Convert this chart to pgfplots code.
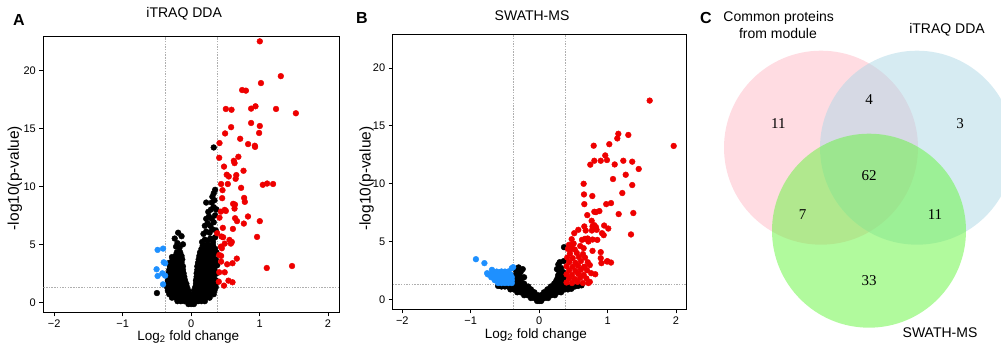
\documentclass[border=0pt]{standalone}
\usepackage{pgfplots}
\pgfplotsset{compat=1.18}
\usepackage{fontspec}
\setmainfont{Liberation Sans}
\newfontfamily\serifnum{Liberation Serif}
\definecolor{upred}{RGB}{238,0,0}
\definecolor{downblue}{RGB}{30,144,255}
\definecolor{refgray}{RGB}{175,175,175}
\definecolor{vpink}{RGB}{255,185,197}
\definecolor{vblue}{RGB}{173,216,230}
\definecolor{vgreen}{RGB}{100,245,60}
\pgfplotsset{
 volc/.style={
  scale only axis,
  axis line style={black, line width=0.8bp},
  xtick={-2,-1,0,1,2}, xticklabels={−2,−1,0,1,2},
  ytick={0,5,10,15,20}, yticklabels={0,5,10,15,20},
  xtick pos=bottom, ytick pos=left,
  tick align=outside, major tick length=4bp,
  tick style={black, line width=0.6bp},
  ticklabel style={font=\fontsize{11bp}{13bp}\selectfont},
  xlabel style={font=\fontsize{13.5bp}{16bp}\selectfont},
  ylabel style={font=\fontsize{15.5bp}{18bp}\selectfont},
  title style={font=\fontsize{14bp}{16bp}\selectfont},
  xlabel={Log\textsubscript{2} fold change},
  ylabel={-log10(p-value)},
  xmin=-2.16, xmax=2.16, ymin=-0.86, ymax=22.9,
 },
 dots/.style={only marks, mark=*, mark size=2.9bp, mark options={draw=none}},
 refline/.style={refgray, line width=0.6bp, dash pattern=on 1.5bp off 1.2bp, forget plot},
}
\begin{document}
\begin{tikzpicture}
\useasboundingbox (0,0) rectangle (1001bp,344bp);
% ---------------- Panel A ----------------
\begin{axis}[volc, at={(43.3bp,31.7bp)}, anchor=south west, width=295.7bp, height=275.6bp,
  title={iTRAQ DDA}, title style={at={(axis description cs:0.4765,1.06)}, anchor=center},
  xlabel style={at={(axis description cs:0.49,-0.088)}, anchor=center},
  ylabel style={at={(axis description cs:-0.096,0.487)}, anchor=center}]
\addplot[refline] coordinates {(-0.38,-0.86) (-0.38,22.9)};
\addplot[refline] coordinates {(0.38,-0.86) (0.38,22.9)};
\addplot[refline] coordinates {(-2.16,1.3) (2.16,1.3)};
\addplot[dots, black] coordinates {
(-0.04,-0.15)(0,-0.15)(0.04,-0.15)
(-0.2,0.1)(-0.15,0.1)(-0.1,0.1)(-0.05,0.1)(0,0.1)(0.05,0.1)(0.1,0.1)(0.15,0.1)(0.2,0.1)
(-0.28,0.4)(-0.23,0.4)(-0.18,0.4)(-0.13,0.4)(-0.08,0.4)(-0.03,0.4)(0.02,0.4)(0.07,0.4)(0.12,0.4)(0.17,0.4)(0.22,0.4)(0.27,0.4)
(-0.32,0.7)(-0.27,0.7)(-0.22,0.7)(-0.17,0.7)(-0.12,0.7)(-0.07,0.7)(-0.02,0.7)(0.03,0.7)(0.08,0.7)(0.13,0.7)(0.18,0.7)(0.23,0.7)(0.28,0.7)(0.33,0.7)
(-0.34,1.0)(-0.29,1.0)(-0.24,1.0)(-0.19,1.0)(-0.14,1.0)(-0.09,1.0)(-0.04,1.0)(0.04,1.0)(0.09,1.0)(0.14,1.0)(0.19,1.0)(0.24,1.0)(0.29,1.0)(0.34,1.0)
(-0.35,1.3)(-0.3,1.3)(-0.25,1.3)(-0.2,1.3)(-0.15,1.3)(-0.1,1.3)(-0.06,1.3)(0.06,1.3)(0.11,1.3)(0.16,1.3)(0.21,1.3)(0.26,1.3)(0.31,1.3)(0.36,1.3)
(-0.35,1.6)(-0.3,1.6)(-0.25,1.6)(-0.2,1.6)(-0.15,1.6)(-0.11,1.6)(-0.07,1.6)(0.07,1.6)(0.12,1.6)(0.17,1.6)(0.22,1.6)(0.27,1.6)(0.32,1.6)(0.36,1.6)
(-0.34,1.9)(-0.29,1.9)(-0.24,1.9)(-0.19,1.9)(-0.14,1.9)(-0.09,1.9)(0.07,1.9)(0.12,1.9)(0.17,1.9)(0.22,1.9)(0.27,1.9)(0.32,1.9)(0.36,1.9)
(-0.34,2.2)(-0.29,2.2)(-0.24,2.2)(-0.19,2.2)(-0.14,2.2)(-0.1,2.2)(0.08,2.2)(0.13,2.2)(0.18,2.2)(0.23,2.2)(0.28,2.2)(0.33,2.2)
(-0.33,2.5)(-0.28,2.5)(-0.23,2.5)(-0.18,2.5)(-0.13,2.5)(-0.11,2.5)(0.08,2.5)(0.13,2.5)(0.18,2.5)(0.23,2.5)(0.28,2.5)(0.33,2.5)(0.37,2.5)
(-0.32,2.8)(-0.27,2.8)(-0.22,2.8)(-0.17,2.8)(-0.12,2.8)(0.09,2.8)(0.14,2.8)(0.19,2.8)(0.24,2.8)(0.29,2.8)(0.34,2.8)
(-0.31,3.1)(-0.26,3.1)(-0.21,3.1)(-0.16,3.1)(-0.12,3.1)(0.09,3.1)(0.14,3.1)(0.19,3.1)(0.24,3.1)(0.29,3.1)(0.34,3.1)
(-0.29,3.4)(-0.24,3.4)(-0.19,3.4)(-0.14,3.4)(0.1,3.4)(0.15,3.4)(0.2,3.4)(0.25,3.4)(0.3,3.4)(0.35,3.4)
(-0.27,3.7)(-0.22,3.7)(-0.17,3.7)(-0.13,3.7)(0.11,3.7)(0.16,3.7)(0.21,3.7)(0.26,3.7)(0.31,3.7)(0.36,3.7)
(-0.23,4.0)(-0.18,4.0)(-0.14,4.0)(0.12,4.0)(0.17,4.0)(0.22,4.0)(0.27,4.0)(0.32,4.0)
(-0.21,4.3)(-0.16,4.3)(0.13,4.3)(0.18,4.3)(0.23,4.3)(0.28,4.3)(0.33,4.3)
(0.15,4.6)(0.2,4.6)(0.25,4.6)(0.3,4.6)(0.35,4.6)
(0.17,4.9)(0.22,4.9)(0.27,4.9)(0.32,4.9)
(-0.19,6.0)(-0.14,5.7)(-0.24,5.5)(-0.2,5.1)(-0.12,5.0)(-0.28,3.9)(-0.32,3.4)(-0.17,4.7)(-0.22,4.8)(-0.5,0.8)
(0.16,5.2)(0.2,5.4)(0.24,5.3)(0.28,5.5)(0.32,5.2)(0.35,5.6)(0.18,5.9)(0.22,6.1)(0.27,6.0)(0.31,6.3)(0.36,6.2)
(0.2,6.6)(0.24,6.8)(0.28,6.6)(0.33,6.9)(0.22,7.2)(0.26,7.4)(0.3,7.2)(0.35,7.5)(0.25,7.8)(0.29,8.0)(0.33,8.2)
(0.37,8.0)(0.22,8.6)(0.3,8.6)(0.34,8.8)(0.31,9.1)(0.33,9.4)(0.35,9.7)(0.33,13.35)(0.37,4.3)(0.38,3.2)
};
\addplot[dots, upred] coordinates {
(1.003,22.5)(1.31,19.5)(1.02,18.9)(0.745,18.3)(0.80,18.25)(0.507,16.67)(0.59,16.6)(0.876,16.7)(0.94,16.9)
(1.24,16.67)(1.53,16.3)(0.876,15.46)(0.584,15.1)(1.003,15.2)(0.496,14.56)(0.993,14.6)(0.716,14.1)(0.414,13.73)
(0.832,13.64)(0.93,13.5)(0.934,13.4)(0.41,12.46)(0.69,12.55)(0.624,12.2)(0.634,12.0)(0.48,11.7)(0.765,11.34)
(0.52,11.0)(0.55,10.85)(0.66,10.97)(0.65,10.65)(0.438,10.2)(0.536,10.2)(1.047,10.13)(1.11,10.24)(1.197,10.2)
(0.73,9.87)(0.458,9.67)(0.453,8.98)(0.774,9.0)(0.784,8.66)(0.613,8.49)(0.634,8.08)(0.64,8.43)(0.434,7.82)
(0.49,7.97)(0.507,7.88)(0.414,7.3)(0.642,7.25)(0.67,7.0)(0.83,7.4)(0.77,6.79)(1.003,7.0)(0.463,6.42)(0.61,6.33)
(0.38,5.96)(0.963,5.64)(0.444,5.67)(0.467,5.61)(0.56,5.38)(0.594,5.2)(0.58,5.06)(0.49,5.06)(0.434,4.8)
(0.448,4.66)(0.41,4.08)(0.438,4.0)(0.667,3.77)(0.438,3.51)(0.526,3.28)(0.604,3.37)(1.105,2.96)(1.474,3.13)
(0.41,2.59)(0.49,2.59)(0.404,1.78)(0.545,1.87)(0.604,1.73)(0.48,1.44)
};
\addplot[dots, downblue] coordinates {
(-0.49,4.52)(-0.41,4.63)(-0.40,3.45)(-0.38,3.37)(-0.505,2.85)(-0.49,2.27)(-0.42,2.5)(-0.38,2.3)(-0.41,1.55)
};
\end{axis}
% ---------------- Panel B ----------------
\begin{axis}[volc, at={(392.7bp,34.7bp)}, anchor=south west, width=294bp, height=275bp,
  xmin=-2.14, xmax=2.156, ymin=-0.87, ymax=22.9,
  title={SWATH-MS}, title style={at={(axis description cs:0.474,1.046)}, anchor=center},
  xlabel style={at={(axis description cs:0.487,-0.0935)}, anchor=center},
  ylabel style={at={(axis description cs:-0.0884,0.475)}, anchor=center}]
\addplot[refline] coordinates {(-0.38,-0.87) (-0.38,22.9)};
\addplot[refline] coordinates {(0.38,-0.87) (0.38,22.9)};
\addplot[refline] coordinates {(-2.14,1.3) (2.156,1.3)};
\addplot[dots, black] coordinates {
(-0.03,-0.15)(0,-0.15)(0.03,-0.15)
(-0.12,0.1)(-0.07,0.1)(-0.02,0.1)(0.03,0.1)(0.08,0.1)(0.13,0.1)
(-0.22,0.35)(-0.17,0.35)(-0.12,0.35)(-0.07,0.35)(-0.02,0.35)(0.03,0.35)(0.08,0.35)(0.13,0.35)(0.18,0.35)(0.23,0.35)
(-0.32,0.6)(-0.27,0.6)(-0.22,0.6)(-0.17,0.6)(-0.12,0.6)(-0.07,0.6)(0.07,0.6)(0.12,0.6)(0.17,0.6)(0.22,0.6)(0.27,0.6)(0.32,0.6)
(-0.42,0.85)(-0.37,0.85)(-0.32,0.85)(-0.27,0.85)(-0.22,0.85)(-0.17,0.85)(-0.12,0.85)(0.12,0.85)(0.17,0.85)(0.22,0.85)(0.27,0.85)(0.32,0.85)(0.37,0.85)(0.42,0.85)(0.47,0.9)
(-0.6,1.15)(-0.55,1.1)(-0.5,1.1)(-0.45,1.1)(-0.4,1.1)(-0.35,1.1)(-0.3,1.1)(-0.25,1.1)(-0.2,1.1)(-0.16,1.1)(0.17,1.1)(0.22,1.1)(0.27,1.1)(0.32,1.1)(0.37,1.1)(0.42,1.1)(0.47,1.1)(0.52,1.1)(0.57,1.15)(0.62,1.2)
(-0.37,1.35)(-0.32,1.35)(-0.27,1.35)(-0.22,1.35)(0.22,1.35)(0.27,1.35)(0.32,1.35)(0.37,1.35)
(-0.37,1.6)(-0.32,1.6)(-0.27,1.6)(0.25,1.6)(0.3,1.6)(0.35,1.6)
(-0.36,1.85)(-0.31,1.85)(-0.26,1.85)(0.27,1.85)(0.32,1.85)(0.36,1.85)
(-0.34,2.1)(-0.29,2.1)(0.28,2.1)(0.33,2.1)
(-0.33,2.35)(-0.27,2.35)(0.3,2.35)(0.35,2.35)
(-0.35,2.6)(-0.3,2.75)(-0.24,2.6)(-0.22,1.9)(0.28,3.0)(0.3,3.2)(0.32,2.7)(0.36,3.3)(0.363,4.5)(0.26,2.6)
};
\addplot[dots, downblue] coordinates {
(-0.4,1.4)(-0.45,1.4)(-0.5,1.4)(-0.55,1.4)(-0.6,1.4)
(-0.4,1.65)(-0.45,1.65)(-0.5,1.65)(-0.55,1.65)(-0.6,1.65)(-0.65,1.65)
(-0.4,1.9)(-0.45,1.9)(-0.5,1.9)(-0.55,1.9)(-0.6,1.9)(-0.65,1.9)(-0.7,1.9)
(-0.42,2.15)(-0.47,2.15)(-0.52,2.15)(-0.58,2.15)(-0.64,2.15)(-0.7,2.15)(-0.75,2.15)
(-0.45,2.4)(-0.55,2.4)(-0.67,2.4)
(-0.924,3.46)(-0.80,3.12)(-0.69,2.54)(-0.62,2.39)(-0.563,2.34)(-0.5,2.39)(-0.40,2.68)(-0.38,2.77)(-0.76,2.25)
};
\addplot[dots, upred] coordinates {
(1.615,17.17)(1.966,13.25)(1.157,14.3)(1.142,13.9)(1.303,14.2)(1.025,13.4)(0.797,13.27)(0.966,12.43)(0.991,12.03)
(0.806,11.97)(0.9,11.97)(0.747,11.63)(1.104,11.65)(1.23,11.97)(1.36,11.89)(1.455,11.26)(1.265,10.76)(1.079,10.39)
(0.65,9.98)(1.36,9.87)(1.215,9.18)(0.655,9.06)(0.777,8.92)(0.66,8.22)(0.98,8.22)(1.05,8.31)(1.376,7.45)
(0.806,7.56)(0.83,7.53)(0.88,7.62)(0.703,7.27)(1.162,7.36)(0.767,6.78)(0.806,6.4)(0.83,6.23)(0.95,6.37)
(0.918,5.71)(0.943,5.54)(1.342,5.6)(0.513,5.71)(0.572,6.0)(0.68,5.94)(0.709,5.25)(0.78,5.16)(0.85,5.13)
(0.475,5.19)(0.504,4.81)(0.436,4.7)(0.46,4.33)(0.65,4.41)(0.78,4.18)(0.9,4.07)(0.998,3.29)(0.91,3.12)
(0.82,2.16)(0.66,2.8)(0.72,1.4)(0.90,3.55)(0.99,3.26)(1.05,3.17)(0.626,5.13)(0.67,5.22)(0.72,4.99)
(0.77,5.94)(0.66,6.29)(0.78,6.29)(0.84,6.0)(1.01,6.11)
(0.40,1.45)(0.48,1.4)(0.56,1.5)(0.64,1.4)(0.74,1.5)
(0.44,1.8)(0.52,1.75)(0.6,1.85)(0.69,1.8)
(0.40,2.15)(0.48,2.1)(0.57,2.2)(0.65,2.1)(0.76,2.25)
(0.44,2.5)(0.53,2.45)(0.61,2.55)(0.70,2.5)
(0.40,2.85)(0.49,2.8)(0.57,2.9)(0.66,2.8)(0.74,2.95)
(0.44,3.2)(0.53,3.15)(0.61,3.3)(0.71,3.2)
(0.41,3.6)(0.49,3.55)(0.58,3.65)(0.67,3.6)
(0.45,3.95)(0.55,4.0)(0.64,3.9)
(0.42,4.35)(0.52,4.3)(0.6,4.6)
(0.48,4.7)
};
\end{axis}
% ---------------- Panel C (Venn) ----------------
\begin{axis}[at={(690bp,0bp)}, anchor=south west, scale only axis, width=311bp, height=344bp,
  xmin=690, xmax=1001, ymin=0, ymax=344, hide axis, clip=false]
\fill[vpink, fill opacity=0.5] (axis cs:821,196.3) circle[radius=97];
\fill[vblue, fill opacity=0.5] (axis cs:917,196.3) circle[radius=97];
\fill[vgreen, fill opacity=0.5] (axis cs:869,113.3) circle[radius=97];
\begin{scope}[every node/.style={font=\serifnum\fontsize{15bp}{17bp}\selectfont}]
\node at (axis cs:778.3,220) {11};
\node at (axis cs:869,244.7) {4};
\node at (axis cs:960,220) {3};
\node at (axis cs:869,168.3) {62};
\node at (axis cs:802.7,129) {7};
\node at (axis cs:935,129) {11};
\node at (axis cs:869,63) {33};
\end{scope}
\begin{scope}[every node/.style={font=\fontsize{14bp}{16bp}\selectfont}]
\node at (axis cs:778.7,325.7) {Common proteins};
\node at (axis cs:778,310.7) {from module};
\node at (axis cs:947,314.7) {iTRAQ DDA};
\node at (axis cs:940,11) {SWATH-MS};
\end{scope}
\end{axis}
\node[font=\bfseries\fontsize{16bp}{18bp}\selectfont] at (19bp,324bp) {A};
\node[font=\bfseries\fontsize{16bp}{18bp}\selectfont] at (362bp,326bp) {B};
\node[font=\bfseries\fontsize{16bp}{18bp}\selectfont] at (706bp,326bp) {C};
\end{tikzpicture}
\end{document}
